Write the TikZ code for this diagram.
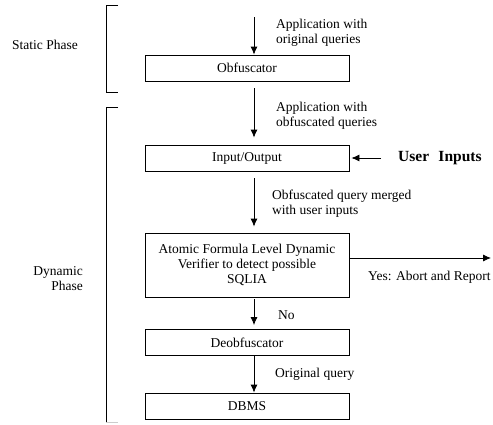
\documentclass[tikz,border=0pt]{standalone}
\usepackage{fontspec}
\setmainfont{Liberation Serif}
\usetikzlibrary{arrows.meta}
\begin{document}
\begin{tikzpicture}[x=1pt,y=-1pt,
    box/.style={draw,line width=0.8pt,minimum width=204pt,minimum height=26pt,inner sep=2pt,align=center,font=\fontsize{13.5}{15}\selectfont},
    lbl/.style={anchor=west,align=left,inner sep=0pt,font=\fontsize{13.5}{15}\selectfont},
    arr/.style={-{Latex[length=8pt,width=7pt]},line width=0.8pt},
    brk/.style={line width=0.8pt}]
    \useasboundingbox (0,0) rectangle (493,424);
    % phases
    \node[lbl,anchor=center] (static) at (45,45) {Static Phase};
    \node[lbl,anchor=east,align=right] (dynamic) at (83,279) {Dynamic\\Phase};
    \draw[brk] (118,5) -- (106,5) -- (106,92) -- (118,92);
    \draw[brk] (118,107) -- (106,107) -- (106,422);
    \draw[brk,gray!40] (106,422) -- (118,422);
    % boxes
    \node[box] (obf) at (247,68) {Obfuscator};
    \node[box] (io) at (247,158) {Input/Output};
    \node[box,minimum height=64pt] (verif) at (247,265) {Atomic Formula Level Dynamic\\Verifier to detect possible\\SQLIA};
    \node[box] (deobf) at (247,342.5) {Deobfuscator};
    \node[box] (dbms) at (247,406) {DBMS};
    \node[lbl,font=\fontsize{15.5}{17}\selectfont\bfseries] (user) at (398,158) {User\hspace{0.6em}Inputs};
    \coordinate (app) at (254,17);
    \coordinate (report) at (491,258);
    % arrows
    \draw[arr] (app) -- ([xshift=7pt]obf.north);
    \draw[arr] ([xshift=7pt,yshift=-7pt]obf.south) -- ([xshift=7pt,yshift=7pt]io.north);
    \draw[arr] ([xshift=-17pt]user.west) -- ([xshift=2pt]io.east);
    \draw[arr] ([xshift=7pt,yshift=-7pt]io.south) -- ([xshift=7pt,yshift=6pt]verif.north);
    \draw[arr] ([yshift=7pt]verif.east) -- (report);
    \draw[arr] ([xshift=7pt,yshift=-2pt]verif.south) -- ([xshift=7pt,yshift=4pt]deobf.north);
    \draw[arr] ([xshift=7pt]deobf.south) -- ([xshift=7pt]dbms.north);
    % labels
    \node[lbl] (l1) at (276,33) {Application with\\original queries};
    \node[lbl] (l2) at (276,116) {Application with\\obfuscated queries};
    \node[lbl] (l3) at (272,204) {Obfuscated query merged\\with user inputs};
    \node[lbl] (l4) at (368,277) {Yes: Abort and Report};
    \node[lbl] (l5) at (278,315) {No};
    \node[lbl] (l6) at (275,374) {Original query};
\end{tikzpicture}
\end{document}
